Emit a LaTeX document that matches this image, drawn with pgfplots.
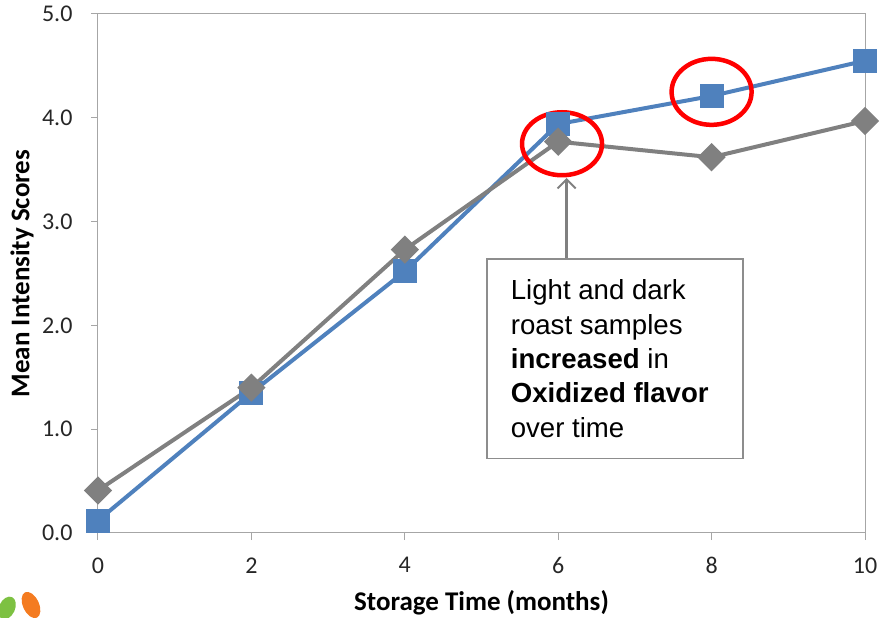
\documentclass[border=0pt]{standalone}
\usepackage{fontspec}
\setmainfont{Liberation Sans}
\newfontfamily\calibri{Carlito}
\usepackage{pgfplots}
\pgfplotsset{compat=1.18}
\usetikzlibrary{arrows.meta,calc}
\definecolor{xlblue}{HTML}{4F81BD}
\definecolor{xlgray}{HTML}{808080}
\definecolor{axgray}{HTML}{A6A6A6}
\definecolor{leafgreen}{HTML}{7DC142}
\definecolor{leaforange}{HTML}{F47B20}
\begin{document}
\begin{tikzpicture}
\begin{axis}[
  name=ax,
  scale only axis,
  width=767pt, height=519pt,
  xmin=0, xmax=10, ymin=0, ymax=5,
  xtick={0,2,4,6,8,10},
  ytick={0,1,2,3,4,5},
  yticklabel={\pgfmathprintnumber[fixed,fixed zerofill,precision=1]{\tick}},
  /pgf/number format/assume math mode=true,
  tick align=outside,
  xtick pos=bottom, ytick pos=left,
  major tick length=7pt,
  tick style={axgray, line width=1pt},
  axis line style={axgray, line width=1pt},
  ticklabel style={font=\calibri\fontsize{24}{28}\selectfont, text=black!85},
  xticklabel style={yshift=-14pt},
  yticklabel style={xshift=-15pt},
  xlabel={Storage Time (months)},
  ylabel={Mean Intensity Scores},
  label style={font=\calibri\bfseries\fontsize{27}{32}\selectfont},
  xlabel style={at={(axis description cs:0.5,-0.1349)}, anchor=center},
  ylabel style={at={(axis description cs:-0.0991,0.5)}, anchor=center, rotate=0},
  clip=false,
]
\addplot[color=xlblue, line width=4pt, mark=square*, mark size=10pt, mark options={fill=xlblue, draw=none}]
  coordinates {(0,0.12) (2,1.35) (4,2.52) (6,3.94) (8,4.21) (10,4.55)};
\addplot[color=xlgray, line width=4pt, mark=square*, mark size=8pt, mark options={fill=xlgray, draw=none, rotate=45}]
  coordinates {(0,0.41) (2,1.40) (4,2.73) (6,3.77) (8,3.62) (10,3.97)};
\draw[red, line width=4.5pt] (axis cs:6.05,3.75) ellipse [x radius=40pt, y radius=31.5pt];
\draw[red, line width=4.5pt] (axis cs:8.0,4.25) ellipse [x radius=40pt, y radius=33pt];
\draw[xlgray, line width=2.5pt, -{Straight Barb[length=9pt, width=18pt, line width=2pt]}]
  (axis cs:6.11,2.65) -- (axis cs:6.11,3.42);
\draw[xlgray!90, line width=1.5pt, fill=white] (axis cs:5.07,2.64) rectangle (axis cs:8.41,0.72);
\node[anchor=north west, align=left, inner sep=0pt, font=\fontsize{27.6}{34.3}\selectfont, text=black]
  at (axis cs:5.38,2.44) {Light and dark\\roast samples\\\textbf{increased} in\\\textbf{Oxidized flavor}\\over time};
\end{axis}
\begin{scope}[shift={($(ax.south west)+(-91pt,-75pt)$)}, rotate=-25]
\fill[leafgreen] (0,0) ellipse [x radius=8pt, y radius=12pt];
\end{scope}
\begin{scope}[shift={($(ax.south west)+(-67pt,-72pt)$)}, rotate=25]
\fill[leaforange] (0,0) ellipse [x radius=8pt, y radius=14pt];
\end{scope}
\pgfresetboundingbox
\path[use as bounding box] ($(ax.south west)+(-98pt,-85pt)$) rectangle ($(ax.north east)+(16pt,14pt)$);
\end{tikzpicture}
\end{document}
